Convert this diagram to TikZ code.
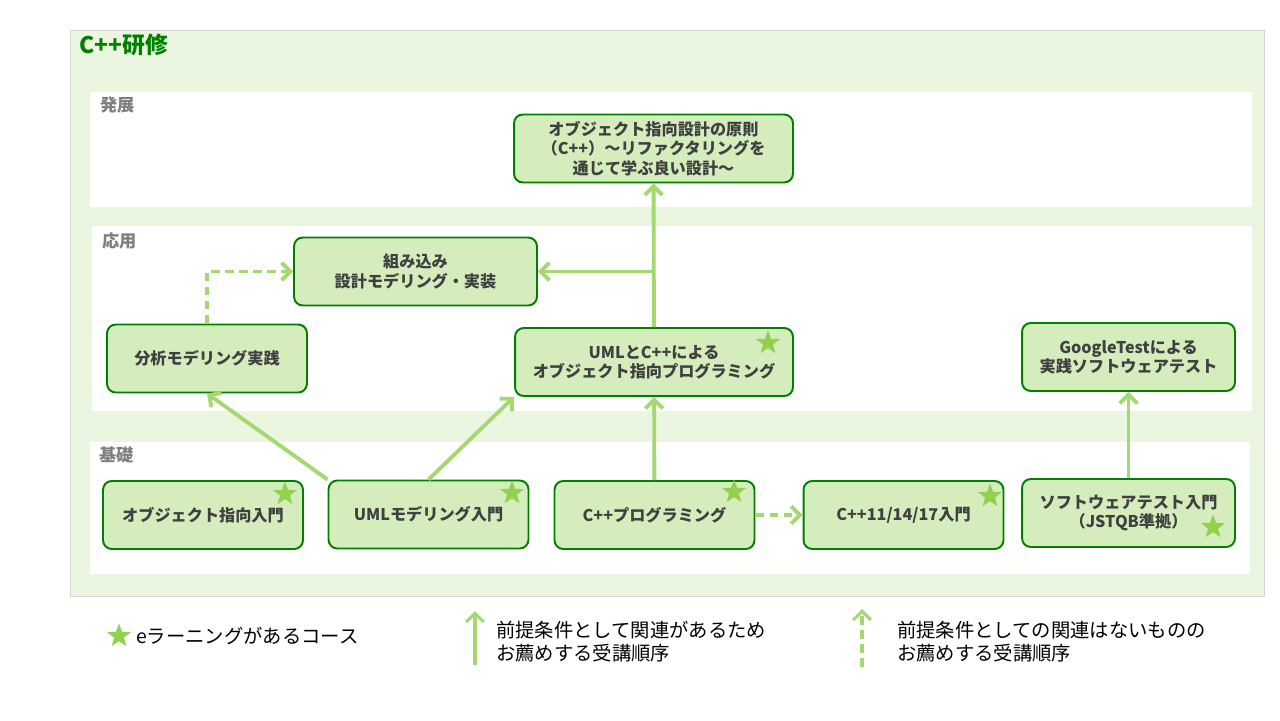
\documentclass[tikz,border=0pt]{standalone}
\usepackage{fontspec}
\setmainfont{Noto Sans CJK JP}
\usetikzlibrary{arrows.meta,shapes.geometric}
\definecolor{panelfill}{RGB}{235,246,224}
\definecolor{panelline}{RGB}{212,212,212}
\definecolor{nodefill}{RGB}{213,237,188}
\definecolor{nodeline}{RGB}{0,128,0}
\definecolor{linkgreen}{RGB}{164,216,112}
\definecolor{stargreen}{RGB}{146,208,80}
\definecolor{textgray}{RGB}{64,64,64}
\definecolor{labelgray}{RGB}{127,127,127}

\begin{document}
\begin{tikzpicture}[x=0.02cm, y=-0.02cm,
    course/.style ={draw=nodeline, fill=nodefill, line width=1.1pt, rounded corners=5pt,
      align=center, text=textgray, font=\bfseries\fontsize{9.2}{11}\selectfont,
      minimum width=4cm, minimum height=1.36cm, inner sep=2pt},
    band/.style ={fill=white, draw=none},
    bandlabel/.style ={anchor=west, text=labelgray, font=\bfseries\fontsize{9.8}{11}\selectfont},
    elearn/.style ={star, star points=5, star point ratio=2.4, fill=stargreen, draw=none,
      minimum size=0.5cm, inner sep=0pt},
    link/.style ={draw=linkgreen, line width=2.2pt, -{Straight Barb[length=5pt,width=10pt]}},
    linkdash/.style ={link, dash pattern=on 5pt off 3pt},
    legend/.style ={anchor=west, align=left, text=black, font=\fontsize{11}{13}\selectfont}]
   \useasboundingbox (0,0) rectangle (1280,720);
   % panel and levels
   \fill[panelfill, draw=panelline] (70,30) rectangle (1264,596);
   \node[anchor=west, text=nodeline, font=\bfseries\fontsize{13}{15}\selectfont] (title) at (73,45) {C++研修};
   \fill[band] (90,92) rectangle (1252,207);
   \fill[band] (92,226) rectangle (1252,411);
   \fill[band] (90,442) rectangle (1250,574);
   \node[bandlabel] (lvladv) at (94,105) {発展};
   \node[bandlabel] (lvlapp) at (96,241) {応用};
   \node[bandlabel] (lvlbas) at (93,455) {基礎};
   % courses
   \node[course, minimum width=5.58cm] (principle) at (653.5,148.5)
     {オブジェクト指向設計の原則\\（C++）～リファクタリングを\\通じて学ぶ良い設計～};
   \node[course, minimum width=4.86cm] (embedded) at (415.5,271.5) {組み込み\\設計モデリング・実装};
   \node[course] (analysis) at (207,358.5) {分析モデリング実践};
   \node[course, minimum width=5.56cm] (umloop) at (654,362) {UMLとC++による\\オブジェクト指向プログラミング};
   \node[course, minimum width=4.26cm] (gtest) at (1128.5,357) {GoogleTestによる\\実践ソフトウェアテスト};
   \node[course] (oopintro) at (203,515) {オブジェクト指向入門};
   \node[course] (umlintro) at (428.5,514.5) {UMLモデリング入門};
   \node[course] (cppprog) at (654.5,515) {C++プログラミング};
   \node[course] (cpp11) at (903.5,515) {C++11/14/17入門};
   \node[course, minimum width=4.26cm] (swtest) at (1128.5,513) {ソフトウェアテスト入門\\（JSTQB準拠）};
   % e-learning marks
   \node[elearn] (starA) at (768,343) {};
   \node[elearn] (starB) at (285,494) {};
   \node[elearn] (starC) at (512,493) {};
   \node[elearn] (starD) at (734,492) {};
   \node[elearn] (starE) at (990,496) {};
   \node[elearn] (starF) at (1213,527) {};
   % connectors
   \coordinate (branch) at (654,271.5);
   \draw[link] (cppprog) to (umloop);
   \draw[link] (umloop) to (principle);
   \draw[link] (branch) to (embedded);
   \draw[link] (umlintro.north) to (umloop.south west);
   \draw[link] (umlintro.north west) to (analysis.south);
   \draw[linkdash] (analysis.north) |- (embedded.west);
   \draw[linkdash] (cppprog) to (cpp11);
   \draw[link] (swtest) to (gtest);
   % legend
   \node[elearn] (legstar) at (119,636) {};
   \node[legend] (legstartext) at (130,636) {eラーニングがあるコース};
   \coordinate (legsolidA) at (475,665);
   \coordinate (legsolidB) at (475,611);
   \draw[link, line width=1.8pt] (legsolidA) to (legsolidB);
   \node[legend] (legsolidtext) at (490,642) {前提条件として関連があるため\\お薦めする受講順序};
   \coordinate (legdashA) at (862,667);
   \coordinate (legdashB) at (862,609);
   \draw[linkdash, line width=1.8pt] (legdashA) to (legdashB);
   \node[legend] (legdashtext) at (891,642) {前提条件としての関連はないものの\\お薦めする受講順序};
 \end{tikzpicture}
\end{document}
